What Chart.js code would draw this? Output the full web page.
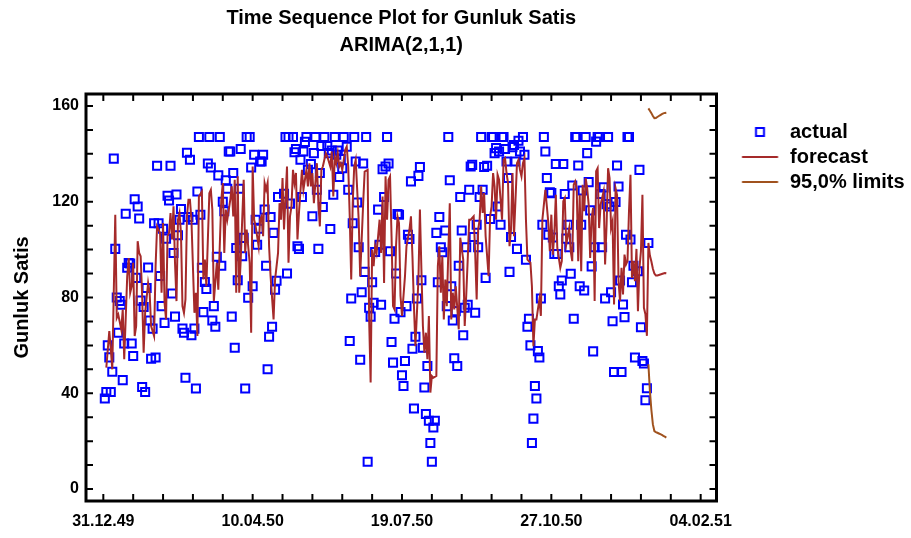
<!DOCTYPE html>
<html><head><meta charset="utf-8">
<script src="https://cdn.jsdelivr.net/npm/chart.js@4.4.0/dist/chart.umd.min.js"></script>
<style>html,body{margin:0;padding:0;background:#fff}#wrap{width:911px;height:538px}</style>
</head><body><div id="wrap"><canvas id="c" width="911" height="538"></canvas></div>
<script>
const titleLines = ['Time Sequence Plot for Gunluk Satis', 'ARIMA(2,1,1)'];
const yAxisTitle = 'Gunluk Satis';
const seriesNames = ['actual', 'forecast', '95,0% limits'];
// x axis: days after 31.12.49
const xTickDays = [0, 100, 200, 300, 400];
const xTickLabels = ['31.12.49', '10.04.50', '19.07.50', '27.10.50', '04.02.51'];
const yTickValues = [0, 40, 80, 120, 160];

// [day, value]
const actualPoints = [
[1,37.8],[2,40.5],[3,60],[4,55],[5,40.5],[6,49],[7,138],[8,100.3],[9,80],[10,65.3],[11,78.5],[12,77],[13,45.5],[14,60.8],[15,115],[16,92.4],[17,94.4],[18,94.2],[19,60.8],[20,55.6],[21,121],[22,88.2],[23,118],[24,113],[25,78.7],[26,42.6],[27,76],[28,40.5],[29,84],[30,92.5],[31,70.4],[32,54.4],[33,67],[34,111],[35,54.9],[36,135],[37,111],[38,89],[39,76.4],[40,108.7],[41,69.4],[42,104.6],[43,122.5],[44,120.5],[45,135],[46,81.7],[47,98.6],[48,72],[49,123],[50,106],[51,112.5],[52,117],[53,67],[54,65.3],[55,46.5],[56,140.5],[57,113.6],[58,137.5],
[59,64.2],[60,112.5],[61,67],[62,42],[63,124.3],[64,147],[65,114.6],[66,92.4],[67,73.9],[68,86.5],[69,83.6],[70,136],[71,147],[72,134.3],[73,70.4],[74,76.4],[75,67.8],[76,97],[77,131],[78,147],[79,93.3],[80,120],[81,116],[82,129],[83,125.4],[84,141],[85,141],[86,72],[87,132],[88,59],[89,100.7],[90,87.2],[91,125.4],[92,142],[93,97.2],[94,104.9],[95,42],[96,147],[97,79.9],[98,147],[99,134.3],[100,84.7],[101,139.6],[102,112.5],[103,102],[104,108.7],[105,136.8],[106,136.8],[107,139.6],[108,116.7],[109,93.3],[110,50],[111,63.6],[112,113.6],[113,67.8],[114,107],[115,83.3],[116,87],[117,122],
[121,123.3],[122,147],[123,90],[124,147],[125,119.2],[127,147],[128,140.7],[129,142],[130,101.4],[131,100.3],[132,137.5],[133,122],[134,141],[135,145],[136,147],[137,133.3],[139,135.7],[140,113.9],[141,140.3],[142,147],[143,125],[144,100.3],[145,132],[146,143.3],[147,117.8],[148,147],[150,143.3],[151,140.3],[152,108.6],[153,141.4],[154,122.9],[155,147],[156,139.6],[157,141.4],[158,130.3],[159,137.8],[160,134],[161,147],[163,143],[164,125],[165,61.8],[166,79.6],[167,111],[168,147],[169,136.8],[170,119.7],[171,101],[172,54],[173,82.2],[174,136],[175,90.7],[176,147],[177,11.4],
[178,75.7],[179,72],[180,86.4],[181,77.8],[182,99],[184,116.7],[185,102],[186,77],[187,133.6],[188,122],[189,134.7],[190,147],[191,136],[192,99.3],[193,61.4],[194,52.8],[195,71.1],[196,90],[197,114.9],[198,114.6],[199,73.9],[200,47.5],[201,43],[202,53.5],[203,76.4],[204,106.2],[205,104.4],[206,128.5],[207,58.6],[208,33.6],[209,63.6],[210,79.6],[211,130.8],[212,134.5],[213,87.2],[214,59],[215,42.4],[216,31.3],[217,51.4],[218,28.5],[219,19.2],[220,11.4],[221,25.7],[222,28.5],[223,107],[224,86.4],[225,113.6],[226,101],[227,98.9],[229,108],[230,76.4],[231,147],[232,129],[233,84.7],[234,70.4],[235,54.6],[236,74.3],[237,51.4],[238,93.3],[239,122],[240,108],
[241,64.2],[242,75.7],[243,101],[244,77],[245,125],[246,134.7],[247,135.4],[248,105.3],[249,73.6],[250,110.4],[251,101],[252,122],[253,147],[254,125],[255,134.5],[256,88.2],[257,135],[259,112.8],[260,147],[261,147],[262,140.3],[263,142.4],[264,118],[265,141],[266,110.4],[267,147],[268,147],[269,142],[270,136.8],[271,129.9],[272,90.7],[273,105.3],[274,142.8],[275,143.7],[276,136.8],[277,100.3],[278,145.5],[279,141],[281,147],[282,139.6],[283,95.8],[284,67.8],[285,71.1],[286,60],[287,19.2],[288,29.4],[289,43],[290,37.8],[291,57.6],[292,54.9],[293,79.6],[294,110.4],[295,147],[296,141],[297,129.9],[298,106.2],[299,123.9],
[300,123.6],[301,105.1],[302,98.2],[303,135.8],[304,98.2],[305,84.7],[306,81.3],[307,87.1],[308,135.8],[309,123.2],[310,104.6],[311,110.4],[312,101],[313,89.9],[314,126.8],[315,71.1],[316,147],[317,147],[318,135.1],[319,84.7],[320,110.4],[321,124.7],[322,82.9],[323,147],[324,140.3],[325,128.2],[326,116.4],[327,93],[328,57.5],[329,101],[330,145.1],[331,147],[332,147],[333,123.2],[334,101],[335,126],[336,79.6],[337,119],[338,147],[339,118],[340,82.2],[341,70.1],[342,48.9],[343,119.9],[344,135.1],[345,126.4],[346,87.1],[347,48.9],[348,77.1],[349,71.8],[350,106.2],[351,147],[352,147],[353,104.2],[354,86.4],[355,93.3],[356,54.9],[358,91],[359,133.3],[360,67.6],[361,53.5],[362,52.4],[363,37.1],[364,42.1],[365,102.8]
];

const forecastPoints = [
[2,50.7],[4,66],[5,58.4],[6,50],[8,114.6],[9,71.5],[10,72.9],[12,66.7],[13,75],[14,54.2],[16,88.9],[17,96.5],[18,82],[19,84.7],[20,94.5],[21,63.9],[22,68.1],[23,103.5],[24,98.6],[25,97.2],[26,80.6],[27,56.9],[28,73.6],[30,86.1],[31,82],[32,68.1],[34,63.9],[35,93.1],[36,109.7],[38,107],[39,82],[40,111.1],[41,77.8],[42,70.8],[43,105.6],[44,107],[45,115.3],[46,104.2],[47,118.1],[48,94.5],[49,78.5],[50,112.5],[51,115.3],[52,107],[53,76.4],[54,73.6],[55,79.2],[56,113.9],[57,120.8],
[58,120.8],[59,112.5],[61,73.6],[62,82],[63,63.9],[64,122.2],[66,124.3],[67,87.5],[68,95.8],[69,84.7],[71,123.6],[72,125],[73,116.7],[74,78.5],[76,94.5],[77,83.3],[79,120.8],[80,127.8],[81,98.6],[82,116.7],[83,112.5],[85,120.8],[86,126.4],[87,113.9],[88,129.2],[89,82],[90,130.6],[91,82],[92,95.8],[94,129.2],[95,98.6],[96,108.4],[98,94.5],[99,65.3],[100,134.7],[101,112.5],[102,109.7],[104,101.4],[105,112.5],[106,113.9],[107,105.6],[108,127.8],[109,125],[110,127.8],[111,101.4],[112,88.9],[114,70.8],[115,87.5],[117,98.6],[118,119.4],
[119,112.5],[120,129.9],[121,108.4],[123,134.7],[124,94.5],[125,113.9],[126,118.1],[127,133.3],[128,127.8],[129,132],[130,104.2],[131,115.3],[133,133.3],[134,125],[135,129.2],[136,133.3],[137,126.4],[138,136.1],[139,126.4],[140,132],[141,119.4],[143,136.1],[144,119.4],[145,109.7],[146,133.3],[147,134.7],[148,137.5],[149,140.3],[150,138.9],[152,134.7],[153,141],[154,122.2],[155,138.9],[156,136.1],[157,140.3],[158,134.7],[159,136.1],[160,133.3],[162,141.7],[163,143.1],[164,134.7],[165,113.9],[166,87.5],[167,119.4],[168,134.7],[169,137.5],[171,112.5],[172,88.9],[174,119.4],[175,132.6],[177,133.3],[178,70.8],
[179,44.5],[180,100],[181,93.1],[182,101.4],[183,98.6],[185,112.5],[186,98.6],[187,122.2],[188,86.1],[189,130.6],[190,112.5],[191,129.2],[192,130.6],[193,105.6],[194,76.4],[195,75],[196,101.4],[197,113.9],[198,111.1],[199,80.6],[200,72.3],[202,88.9],[203,101.4],[205,108.4],[206,113.9],[207,97.2],[208,76.4],[209,59.7],[211,87.5],[212,116.7],[213,91.7],[214,68.1],[215,56.9],[216,65.3],[217,54.2],[218,72.3],[219,40.3],[220,47.2],[221,46.5],[223,47.2],[224,93.1],[225,101.4],[226,82],[227,97.2],[228,70.8],[229,87.5],[230,76.4],[231,98.6],[232,119.4],[233,70.8],[234,82],[235,75],[236,84.7],[238,66.7],[239,105],
[241,95.8],[242,68.1],[243,80.6],[244,95.8],[245,112.5],[246,112.5],[248,113.9],[249,98.6],[250,79.2],[251,108.4],[252,112.5],[253,126.4],[254,115.3],[255,123.6],[256,105.6],[258,88.9],[259,113.9],[260,118.1],[261,132],[262,126.4],[263,112.5],[264,131.3],[265,129.2],[267,112.5],[268,137.5],[269,138.2],[270,132],[271,127.8],[272,101.4],[273,108.4],[274,132],[275,105.6],[277,136.1],[278,137.5],[279,133.3],[280,130.6],[281,136.1],[282,138.2],[283,112.5],[284,95.8],[286,94.5],[287,84.7],[288,59.7],[289,70.8],[290,70.8],[291,75],[292,79.2],[293,72.3],[294,112.5],[296,125],[297,118.1],[298,111.1],
[299,99.3],[300,114.6],[301,97.9],[302,106.3],[303,122.9],[304,100.7],[306,92.4],[307,95.2],[308,120.2],[309,121.5],[310,102.1],[312,109],[313,99.3],[314,95.2],[315,127.1],[316,128.5],[317,125.7],[318,95.2],[319,122.9],[320,91],[321,127.1],[322,116],[323,129.9],[324,125.7],[325,118.8],[326,96.5],[327,113.2],[328,117.4],[329,78.5],[330,132.7],[331,134],[332,109],[333,118.8],[335,124.3],[336,93.8],[337,110.4],[338,134],[339,129.9],[340,109],[341,111.8],[342,77.1],[343,125.7],[344,122.9],[345,86.8],[346,78.5],[347,92.4],[348,81.3],[349,97.9],[350,93.8],[351,95.2],[352,116],[353,131.3],[354,88.2],[355,95.2],[356,86.8],[357,100.3],[358,74.3],[359,92.4],[360,99.3],[361,122.9],[362,75.7],[363,73],[364,64],[365,102.8],
[366,97.5],[367,95],[368,92],[369,90],[370,89.2],[371,89.2],[372,89.4],[373,89.6],[374,89.8],[375,90],[376,90.2],[377,90.1]
];

const limitDays  = [365, 366, 367, 368, 369, 370, 371, 372, 373, 374, 375, 376, 377];
const upperLimit = [159, 158, 157, 155.8, 154.9, 155, 155.4, 155.8, 156.2, 156.6, 156.9, 157.1, 157.2];
const lowerLimit = [52.1, 41, 33, 27, 24.2, 23.8, 23.5, 23.2, 22.9, 22.6, 22.2, 21.9, 21.5];

const FONT = '"Liberation Sans", Arial, Helvetica, sans-serif';
const BLUE = '#0000ff', RED = '#a52a2a', BROWN = '#a0521e';

function toXY(pairs) { return pairs.map(p => ({x: p[0], y: p[1]})); }

function legendMarker(kind, color) {
  const c = document.createElement('canvas');
  c.width = 56; c.height = 14;
  const g = c.getContext('2d');
  const cx = 37.25, cy = 7;
  g.strokeStyle = color; g.lineWidth = 2;
  if (kind === 'square') { g.strokeRect(cx - 4, cy - 4, 8, 8); }
  else { g.beginPath(); g.moveTo(cx - 18, cy); g.lineTo(cx + 18, cy); g.stroke(); }
  return c;
}
const legendMarkers = [legendMarker('square', BLUE), legendMarker('line', RED), legendMarker('line', BROWN)];

const framePlugin = {
  id: 'frame',
  afterDraw(chart) {
    const {ctx, chartArea: a, scales: {x, y}} = chart;
    ctx.save();
    ctx.strokeStyle = '#000';
    ctx.lineWidth = 2;
    ctx.beginPath();
    for (let v = 0; v <= 160; v += 10) {
      const py = y.getPixelForValue(v);
      ctx.moveTo(a.left, py); ctx.lineTo(a.left + 7, py);
      ctx.moveTo(a.right, py); ctx.lineTo(a.right - 7, py);
    }
    for (let d = 0; d <= 400; d += 20) {
      const px = x.getPixelForValue(d);
      ctx.moveTo(px, a.bottom); ctx.lineTo(px, a.bottom - 7);
      ctx.moveTo(px, a.top); ctx.lineTo(px, a.top + 7);
    }
    ctx.stroke();
    ctx.lineWidth = 3;
    ctx.strokeRect(a.left, a.top, a.right - a.left, a.bottom - a.top);
    ctx.restore();
  }
};

new Chart(document.getElementById('c'), {
  type: 'scatter',
  data: {
    datasets: [
      { label: seriesNames[0], data: toXY(actualPoints), showLine: false, pointStyle: 'rect',
        pointRadius: 5.7, pointBorderWidth: 2, borderColor: BLUE, backgroundColor: 'rgba(0,0,0,0)', order: 2 },
      { label: seriesNames[1], data: toXY(forecastPoints), showLine: true, pointRadius: 0,
        borderColor: RED, borderWidth: 2, tension: 0, order: 1 },
      { label: seriesNames[2], data: limitDays.map((d, i) => ({x: d, y: upperLimit[i]})), showLine: true,
        pointRadius: 0, borderColor: BROWN, borderWidth: 2, tension: 0, order: 1 },
      { label: seriesNames[2] + ' lower', data: limitDays.map((d, i) => ({x: d, y: lowerLimit[i]})), showLine: true,
        pointRadius: 0, borderColor: BROWN, borderWidth: 2, tension: 0, order: 1 }
    ]
  },
  options: {
    responsive: false,
    animation: false,
    events: [],
    layout: { padding: 0, autoPadding: false },
    scales: {
      x: {
        type: 'linear', min: -11.6, max: 410.6,
        afterBuildTicks: s => { s.ticks = xTickDays.map(v => ({value: v})); },
        afterFit: s => { s.height = 37; },
        grid: { display: false, drawTicks: false }, border: { display: false },
        ticks: { autoSkip: false, maxRotation: 0, padding: 11, color: '#000',
                 font: { family: FONT, size: 16, weight: 'bold' },
                 callback: v => { const i = xTickDays.indexOf(v); return i >= 0 ? xTickLabels[i] : ''; } }
      },
      y: {
        min: -5, max: 165,
        afterBuildTicks: s => { s.ticks = yTickValues.map(v => ({value: v})); },
        afterFit: s => { s.width = 86; },
        grid: { display: false, drawTicks: false }, border: { display: false },
        ticks: { padding: 7, color: '#000', font: { family: FONT, size: 16, weight: 'bold' } },
        title: { display: true, text: yAxisTitle, color: '#000', padding: { top: 10, bottom: 0 },
                 font: { family: FONT, size: 20, weight: 'bold' } }
      }
    },
    plugins: {
      tooltip: { enabled: false },
      title: { display: true, text: titleLines, fullSize: false, color: '#000',
               font: { family: FONT, size: 20, weight: 'bold', lineHeight: '27px' },
               padding: { top: 4.5, bottom: 35.5 } },
      legend: {
        display: true, position: 'right', align: 'start', fullSize: false, maxWidth: 194.5,
        title: { display: true, text: '', font: { size: 10, lineHeight: 1 }, padding: { top: 13, bottom: 0 } },
        labels: {
          usePointStyle: true, pointStyleWidth: 58.5, padding: 5, color: '#000',
          font: { family: FONT, size: 20, weight: 'bold' },
          generateLabels: chart => chart.data.datasets.slice(0, 3).map((ds, i) => ({
            text: ds.label, pointStyle: legendMarkers[i], datasetIndex: i,
            fillStyle: 'rgba(0,0,0,0)', strokeStyle: 'rgba(0,0,0,0)', lineWidth: 0, hidden: false, fontColor: '#000'
          }))
        }
      }
    }
  },
  plugins: [framePlugin]
});
</script>
</body></html>
